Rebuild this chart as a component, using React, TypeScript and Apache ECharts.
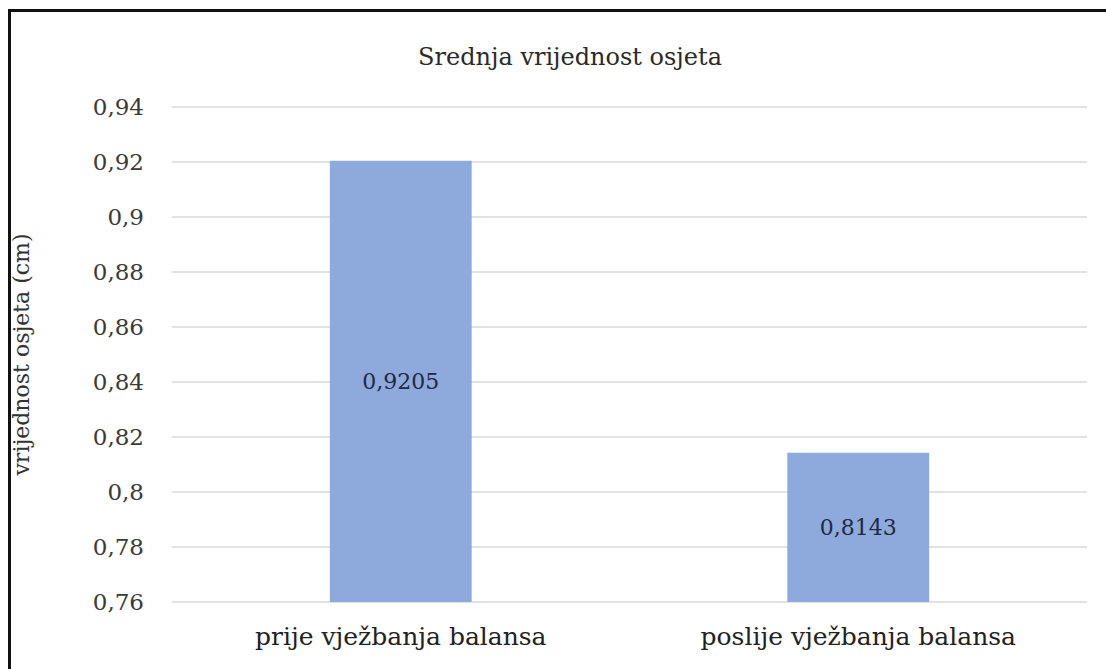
import React, { useEffect, useRef } from "react";
import * as echarts from "echarts";

const categories = ["prije vježbanja balansa", "poslije vježbanja balansa"];
const values = [0.9205, 0.8143];
const titleText = "Srednja vrijednost osjeta";
const yAxisName = "vrijednost osjeta (cm)";

const FONT = "'DejaVu Serif', 'Liberation Serif', serif";
const fmt = (v: number) => String(Math.round(v * 10000) / 10000).replace(".", ",");

export default function App() {
  const ref = useRef<HTMLDivElement>(null);
  useEffect(() => {
    if (!ref.current) return;
    const chart = echarts.init(ref.current, null, { renderer: "svg" });
    chart.setOption({
      animation: false,
      backgroundColor: "#ffffff",
      title: {
        text: titleText,
        left: 565,
        top: 40,
        textAlign: "center",
        textStyle: { fontFamily: FONT, fontSize: 24, fontWeight: "normal", color: "#2a2a2a" },
      },
      graphic: [
        {
          type: "rect",
          shape: { x: 9.5, y: 10.5, width: 1120, height: 680 },
          style: { fill: "none", stroke: "#111", lineWidth: 3 },
          silent: true,
        },
      ],
      grid: { left: 172, right: 19, top: 107, bottom: 67 },
      xAxis: {
        type: "category",
        data: categories,
        axisLine: { show: false },
        axisTick: { show: false },
        axisLabel: { fontFamily: FONT, fontSize: 25, color: "#222", margin: 22 },
      },
      yAxis: {
        type: "value",
        min: 0.76,
        max: 0.94,
        interval: 0.02,
        name: yAxisName,
        nameLocation: "middle",
        nameGap: 140,
        nameTextStyle: { fontFamily: FONT, fontSize: 22, color: "#333" },
        axisLine: { show: false },
        axisTick: { show: false },
        axisLabel: {
          fontFamily: FONT,
          fontSize: 23,
          color: "#3a3a3a",
          margin: 28,
          formatter: (v: number) => fmt(Math.round(v * 100) / 100),
        },
        splitLine: { lineStyle: { color: "#d9d9d9", width: 1.5 } },
      },
      series: [
        {
          type: "bar",
          data: values,
          barWidth: "31%",
          itemStyle: { color: "#8ea9db" },
          label: {
            show: true,
            position: "inside",
            fontFamily: FONT,
            fontSize: 22,
            color: "#1f2a44",
            formatter: (p: any) => fmt(p.value),
          },
        },
      ],
    });
    return () => chart.dispose();
  }, []);
  return (
    <div
      ref={ref}
      style={{ position: "fixed", left: 0, top: 0, width: 1106, height: 669 }}
    />
  );
}
